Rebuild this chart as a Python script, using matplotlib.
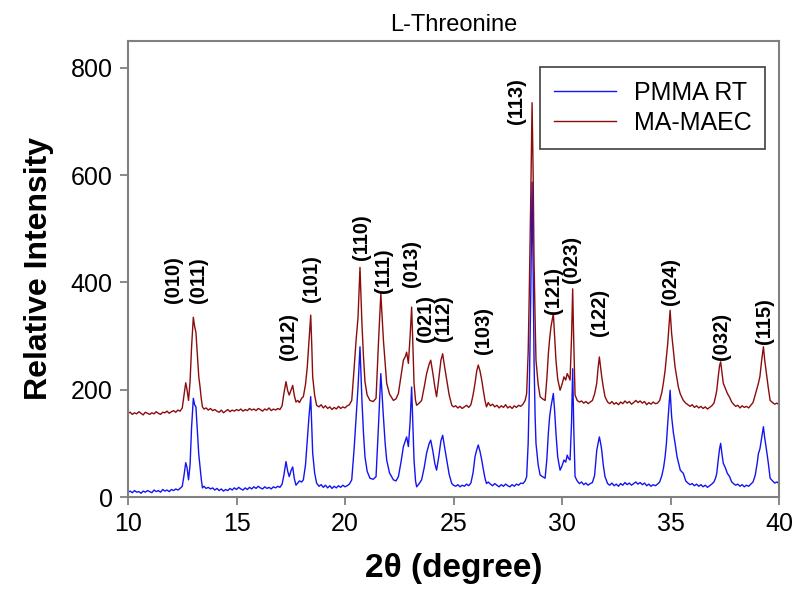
import matplotlib
matplotlib.use("Agg")
import matplotlib.pyplot as plt

###############################################################################
# Datos (2theta en grados, intensidad relativa)
###############################################################################
two_theta = [
    10.0, 10.1, 10.2, 10.3, 10.4, 10.5, 10.6, 10.7, 10.8, 10.9,
    11.0, 11.1, 11.2, 11.3, 11.4, 11.5, 11.6, 11.7, 11.8, 11.9,
    12.0, 12.1, 12.2, 12.3, 12.4, 12.5, 12.58, 12.66, 12.72, 12.79,
    12.86, 12.93, 13.01, 13.07, 13.13, 13.2, 13.26, 13.32, 13.38, 13.43,
    13.5, 13.6, 13.7, 13.8, 13.9, 14.0, 14.1, 14.2, 14.3, 14.4,
    14.5, 14.6, 14.7, 14.8, 14.9, 15.0, 15.1, 15.2, 15.3, 15.4,
    15.5, 15.6, 15.7, 15.8, 15.9, 16.0, 16.1, 16.2, 16.3, 16.4,
    16.5, 16.6, 16.7, 16.8, 16.9, 17.0, 17.1, 17.18, 17.28, 17.36,
    17.43, 17.52, 17.59, 17.66, 17.74, 17.82, 17.9, 18.0, 18.08, 18.18,
    18.26, 18.34, 18.42, 18.47, 18.51, 18.6, 18.69, 18.8, 18.9, 19.0,
    19.1, 19.2, 19.3, 19.4, 19.5, 19.6, 19.7, 19.8, 19.9, 20.0,
    20.1, 20.2, 20.31, 20.42, 20.51, 20.6, 20.69, 20.78, 20.85, 20.92,
    21.02, 21.15, 21.3, 21.43, 21.54, 21.65, 21.77, 21.85, 21.92, 22.05,
    22.23, 22.35, 22.46, 22.58, 22.69, 22.78, 22.84, 22.92, 23.0, 23.07,
    23.13, 23.18, 23.25, 23.3, 23.42, 23.53, 23.65, 23.76, 23.88, 23.95,
    24.05, 24.14, 24.22, 24.32, 24.42, 24.5, 24.58, 24.69, 24.8, 24.92,
    25.0, 25.1, 25.2, 25.3, 25.4, 25.5, 25.6, 25.7, 25.8, 25.9,
    25.99, 26.07, 26.14, 26.22, 26.3, 26.38, 26.45, 26.52, 26.6, 26.7,
    26.8, 26.9, 27.0, 27.1, 27.2, 27.3, 27.4, 27.5, 27.6, 27.7,
    27.8, 27.9, 28.0, 28.1, 28.2, 28.3, 28.37, 28.44, 28.49, 28.56,
    28.62, 28.67, 28.71, 28.76, 28.8, 28.9, 28.99, 29.1, 29.22, 29.3,
    29.37, 29.43, 29.49, 29.6, 29.66, 29.72, 29.8, 29.91, 30.0, 30.09,
    30.17, 30.24, 30.3, 30.37, 30.44, 30.49, 30.54, 30.6, 30.7, 30.8,
    30.9, 31.0, 31.1, 31.2, 31.3, 31.4, 31.5, 31.6, 31.66, 31.72,
    31.78, 31.83, 31.9, 31.98, 32.1, 32.2, 32.3, 32.4, 32.5, 32.6,
    32.7, 32.8, 32.9, 33.0, 33.1, 33.2, 33.3, 33.4, 33.5, 33.6,
    33.7, 33.8, 33.9, 34.0, 34.1, 34.2, 34.3, 34.4, 34.5, 34.6,
    34.68, 34.75, 34.81, 34.87, 34.93, 34.98, 35.05, 35.13, 35.21, 35.3,
    35.36, 35.45, 35.59, 35.7, 35.8, 35.9, 36.0, 36.1, 36.2, 36.3,
    36.4, 36.5, 36.6, 36.7, 36.8, 36.9, 37.0, 37.08, 37.13, 37.2,
    37.26, 37.31, 37.37, 37.43, 37.52, 37.62, 37.72, 37.82, 37.9, 38.0,
    38.1, 38.2, 38.3, 38.4, 38.5, 38.6, 38.7, 38.8, 38.9, 39.0,
    39.05, 39.12, 39.2, 39.28, 39.34, 39.4, 39.5, 39.59, 39.7, 39.8,
    39.9, 40.0,
]

pmma_rt = [
    9, 11, 8, 12, 9, 10, 7, 11, 9, 12,
    10, 8, 13, 10, 12, 9, 14, 11, 13, 10,
    14, 12, 15, 13, 16, 20, 40, 64, 55, 32,
    60, 130, 184, 172, 168, 120, 80, 56, 32, 17,
    20, 16, 18, 15, 17, 13, 16, 12, 15, 11,
    14, 12, 16, 13, 17, 14, 18, 15, 13, 17,
    14, 18, 15, 19, 16, 20, 17, 15, 19, 16,
    18, 15, 19, 17, 20, 18, 24, 40, 66, 48,
    38, 50, 56, 35, 22, 26, 30, 28, 32, 60,
    106, 150, 187, 130, 82, 45, 26, 20, 23, 18,
    22, 17, 21, 16, 20, 17, 21, 18, 22, 19,
    21, 24, 32, 90, 149, 205, 280, 180, 120, 75,
    48, 35, 33, 38, 131, 230, 149, 100, 69, 45,
    32, 30, 38, 65, 94, 105, 112, 94, 140, 205,
    130, 69, 30, 19, 25, 32, 55, 82, 100, 106,
    85, 62, 50, 75, 105, 115, 95, 69, 42, 25,
    22, 20, 23, 19, 22, 20, 24, 21, 26, 45,
    75, 88, 97, 85, 69, 50, 35, 25, 28, 24,
    21, 25, 22, 19, 23, 20, 24, 21, 19, 23,
    20, 24, 22, 26, 25, 30, 38, 100, 193, 380,
    587, 420, 255, 150, 100, 60, 41, 38, 35, 70,
    119, 150, 168, 193, 160, 119, 75, 50, 58, 69,
    65, 78, 72, 69, 140, 239, 130, 38, 30, 25,
    28, 23, 26, 22, 25, 27, 40, 87, 100, 112,
    100, 87, 60, 38, 25, 22, 26, 21, 24, 20,
    25, 22, 27, 23, 26, 22, 25, 28, 24, 27,
    23, 26, 21, 24, 20, 23, 21, 24, 28, 40,
    55, 75, 100, 137, 170, 199, 150, 120, 100, 75,
    65, 50, 44, 30, 26, 23, 25, 21, 24, 20,
    23, 19, 22, 18, 21, 24, 28, 36, 44, 70,
    90, 100, 80, 63, 55, 44, 38, 28, 25, 22,
    24, 20, 23, 19, 22, 20, 24, 28, 40, 65,
    81, 90, 110, 131, 110, 94, 65, 35, 30, 26,
    28, 25,
]

ma_maec = [
    156, 158, 154, 157, 155, 159, 156, 153, 158, 156,
    154, 157, 155, 159, 156, 154, 158, 157, 160, 156,
    159, 161, 158, 162, 160, 166, 190, 213, 200, 180,
    215, 280, 335, 318, 307, 262, 225, 205, 182, 168,
    164, 166, 162, 165, 161, 163, 160, 158, 162, 157,
    160, 163, 159, 162, 160, 163, 161, 164, 160, 163,
    161, 165, 162, 164, 161, 165, 163, 160, 164, 162,
    166, 161, 164, 162, 165, 163, 170, 192, 215, 198,
    190, 200, 208, 190, 177, 180, 176, 184, 187, 210,
    242, 290, 339, 280, 224, 190, 171, 168, 172, 166,
    170, 165, 168, 163, 167, 164, 169, 165, 168, 166,
    170, 172, 180, 240, 292, 335, 428, 323, 262, 215,
    190, 180, 178, 184, 286, 379, 292, 250, 212, 192,
    180, 183, 193, 225, 255, 262, 270, 249, 300, 354,
    280, 212, 180, 171, 175, 180, 205, 230, 248, 255,
    230, 205, 187, 220, 255, 267, 245, 218, 190, 171,
    168, 170, 166, 169, 165, 168, 171, 167, 172, 190,
    212, 235, 246, 235, 218, 197, 180, 168, 176, 170,
    173, 168, 171, 166, 170, 167, 172, 166, 169, 165,
    170, 167, 171, 169, 173, 180, 193, 270, 379, 560,
    735, 600, 441, 330, 255, 210, 187, 183, 180, 220,
    267, 295, 317, 342, 300, 255, 220, 199, 210, 224,
    218, 230, 225, 218, 300, 388, 290, 190, 180, 177,
    179, 175, 178, 174, 177, 180, 192, 212, 240, 261,
    240, 224, 205, 187, 177, 174, 178, 173, 176, 172,
    177, 174, 179, 175, 178, 173, 176, 180, 176, 179,
    175, 178, 172, 176, 173, 177, 174, 175, 180, 195,
    215, 236, 260, 286, 320, 348, 305, 273, 242, 220,
    205, 192, 180, 175, 172, 169, 172, 167, 170, 166,
    169, 165, 168, 164, 167, 170, 175, 188, 199, 225,
    245, 252, 232, 212, 203, 193, 186, 177, 173, 169,
    171, 166, 170, 167, 169, 166, 171, 176, 190, 205,
    212, 225, 255, 280, 255, 236, 205, 180, 176, 173,
    175, 172,
]

# Indices de Miller y posicion de cada etiqueta
hkl_labels = ["(010)", "(011)", "(012)", "(101)", "(110)", "(111)", "(013)",
              "(021)", "(112)", "(103)", "(113)", "(121)", "(023)", "(122)",
              "(024)", "(032)", "(115)"]
hkl_x = [12.1, 13.24, 17.39, 18.46, 20.77, 21.77, 23.07, 23.69, 24.53,
         26.37, 27.91, 29.63, 30.45, 31.72, 34.98, 37.33, 39.31]
hkl_y = [361, 361, 255, 363, 441, 380, 391, 289, 291, 267, 696, 342, 398,
         301, 357, 255, 286]

###############################################################################
""" Ploteo """
###############################################################################
plt.rcParams['font.family'] = ['Liberation Sans', 'DejaVu Sans']

fig = plt.figure(figsize=(8.0, 5.95), dpi=100)
ax = fig.add_axes([0.16, 0.1647, 0.8138, 0.7664])

ax.plot(two_theta, pmma_rt, color="#1414f0", lw=1.0, label="PMMA RT")
ax.plot(two_theta, ma_maec, color="#8b0c0c", lw=1.0, label="MA-MAEC")

for lab, xl, yl in zip(hkl_labels, hkl_x, hkl_y):
    ax.text(xl, yl, lab, rotation=90, ha="center", va="bottom",
            fontsize=14.5, fontweight="bold")

ax.set_xlim(10, 40)
ax.set_ylim(0, 850)
ax.set_xticks([10, 15, 20, 25, 30, 35, 40])
ax.set_yticks([0, 200, 400, 600, 800])

for s in ax.spines.values():
    s.set_color("#808080")
    s.set_linewidth(1.5)
ax.tick_params(direction="out", length=6, width=1.3, color="#808080",
               labelsize=18, pad=5)

ax.set_title("L-Threonine", fontsize=17, pad=7)
ax.set_xlabel("2θ (degree)", fontsize=24, fontweight="bold", labelpad=12)
ax.set_ylabel("Relative Intensity", fontsize=23, fontweight="bold",
              labelpad=12)

leg = ax.legend(loc="upper right", bbox_to_anchor=(0.9785, 0.943),
                borderaxespad=0, fontsize=18, handlelength=2.5,
                handletextpad=0.7, labelspacing=0.25,
                fancybox=False, framealpha=1, borderpad=0.55)
leg.get_frame().set_edgecolor("#404040")
leg.get_frame().set_linewidth(1.2)

plt.savefig("out.png", dpi=100)
